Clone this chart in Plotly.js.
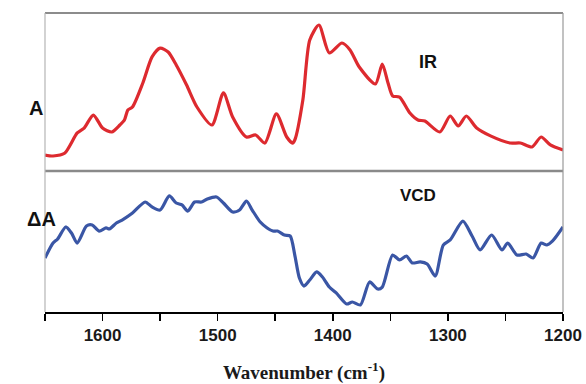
<!DOCTYPE html>
<html>
<head>
<meta charset="utf-8">
<script src="https://cdn.plot.ly/plotly-3.0.1.min.js"></script>
<style>html,body{margin:0;padding:0;background:#fff;}#chart{width:586px;height:384px;}</style>
</head>
<body>
<div id="chart"></div>
<script>
// IR spectrum (top panel), wavenumber in cm-1, absorbance in arbitrary units
const irWavenumber = [1650,1643,1633,1622,1616,1608,1600,1592,1585,1581,1578,1574,1565,1557,1550,1543,1536,1527,1518,1505,1495,1487,1475,1467,1459,1449,1440,1435,1433,1426,1420,1412,1403,1392,1385,1377,1363,1357,1352,1348,1342,1333,1326,1320,1307,1298,1291,1284,1275,1263,1246,1237,1227,1219,1211,1200];
const irAbsorbance = [0.101,0.095,0.112,0.241,0.272,0.354,0.272,0.247,0.291,0.323,0.386,0.405,0.557,0.722,0.778,0.753,0.671,0.544,0.405,0.291,0.494,0.342,0.215,0.228,0.177,0.361,0.215,0.177,0.196,0.449,0.829,0.924,0.747,0.810,0.766,0.658,0.551,0.677,0.557,0.475,0.468,0.367,0.323,0.316,0.247,0.348,0.285,0.348,0.272,0.222,0.177,0.177,0.152,0.215,0.165,0.133];

// VCD spectrum (bottom panel)
const vcdWavenumber = [1650,1643,1639,1632,1627,1622,1614,1609,1603,1597,1594,1588,1583,1574,1563,1557,1550,1542,1536,1531,1526,1520,1514,1509,1501,1495,1487,1481,1475,1470,1463,1457,1452,1448,1442,1437,1433,1429,1425,1420,1414,1409,1403,1397,1388,1383,1376,1368,1361,1357,1348,1342,1336,1331,1324,1318,1311,1304,1298,1287,1279,1272,1262,1253,1248,1240,1232,1226,1219,1214,1209,1200];
const vcdDeltaA = [0.383,0.489,0.518,0.603,0.560,0.489,0.610,0.617,0.574,0.596,0.589,0.631,0.652,0.702,0.780,0.745,0.723,0.823,0.773,0.759,0.716,0.780,0.780,0.801,0.816,0.773,0.709,0.723,0.787,0.723,0.638,0.596,0.574,0.574,0.546,0.539,0.404,0.241,0.184,0.227,0.284,0.248,0.177,0.135,0.057,0.071,0.050,0.213,0.163,0.177,0.404,0.369,0.397,0.348,0.355,0.340,0.255,0.475,0.511,0.645,0.539,0.440,0.546,0.440,0.489,0.404,0.411,0.383,0.489,0.475,0.504,0.603];

const tickValues = [1600,1500,1400,1300,1200];
const tickLabels = ["1600","1500","1400","1300","1200"];
const minorTickValues = [1650,1550,1450,1350,1250];

const traces = [
  {x: irWavenumber, y: irAbsorbance, xaxis: 'x2', yaxis: 'y2', mode: 'lines',
   line: {color: '#dd2a2f', width: 3.2, shape: 'spline', smoothing: 0.7}, hoverinfo: 'skip'},
  {x: vcdWavenumber, y: vcdDeltaA, xaxis: 'x', yaxis: 'y', mode: 'lines',
   line: {color: '#3a56a5', width: 3.2, shape: 'spline', smoothing: 0.7}, hoverinfo: 'skip'}
];

const split = 0.4716;
const layout = {
  width: 586, height: 384,
  margin: {l: 45, r: 23, t: 13, b: 72},
  paper_bgcolor: '#fff', plot_bgcolor: '#fff',
  showlegend: false,
  xaxis: {
    range: [1650, 1200], anchor: 'y', domain: [0, 1],
    tickmode: 'array', tickvals: tickValues, ticktext: tickLabels,
    ticks: 'outside', ticklen: 7, tickwidth: 1.5, tickcolor: '#000',
    minor: {tickmode: 'array', tickvals: minorTickValues, ticks: 'outside', ticklen: 7, tickwidth: 1.5, tickcolor: '#000', showgrid: false},
    showline: true, linecolor: '#000', linewidth: 2, showgrid: false, zeroline: false,
    tickfont: {family: 'Liberation Sans, Arial, sans-serif', size: 17, color: '#1a1a1a', weight: 'bold'},
    title: {text: 'Wavenumber (cm<sup>-1</sup>)', standoff: 22,
      font: {family: 'Liberation Serif, Times New Roman, serif', size: 19, color: '#1a1a1a', weight: 'bold'}}
  },
  xaxis2: {
    range: [1650, 1200], anchor: 'y2', domain: [0, 1],
    showticklabels: false, ticks: '', showline: false, showgrid: false, zeroline: false
  },
  yaxis: {
    domain: [0, split], range: [0, 1],
    showticklabels: false, ticks: '', showline: false, showgrid: false, zeroline: false
  },
  yaxis2: {
    domain: [split, 1], range: [0, 1],
    showticklabels: false, ticks: '', showline: false, showgrid: false, zeroline: false
  },
  shapes: [
    {type: 'line', xref: 'paper', yref: 'paper', x0: 0, x1: 1, y0: 1, y1: 1, line: {color: '#666', width: 1.5}},
    {type: 'line', xref: 'paper', yref: 'paper', x0: 0, x1: 1, y0: split, y1: split, line: {color: '#8a8a8a', width: 2.5}},
    {type: 'line', xref: 'paper', yref: 'paper', x0: 0, x1: 0, y0: 0, y1: 1, line: {color: '#b5b5b5', width: 1.2}},
    {type: 'line', xref: 'paper', yref: 'paper', x0: 1, x1: 1, y0: 0, y1: 1, line: {color: '#999', width: 1.2}}
  ],
  annotations: [
    {text: 'A', xref: 'paper', yref: 'paper', x: -0.0347, y: 0.726, showarrow: false,
     font: {family: 'Liberation Sans, Arial, sans-serif', size: 20, color: '#111', weight: 'bold'}},
    {text: 'ΔA', xref: 'paper', yref: 'paper', x: -0.0386, y: 0.268, showarrow: false,
     font: {family: 'Liberation Sans, Arial, sans-serif', size: 20, color: '#111', weight: 'bold'}},
    {text: 'IR', xref: 'paper', yref: 'paper', x: 0.761, y: 0.876, showarrow: false,
     font: {family: 'Liberation Sans, Arial, sans-serif', size: 18, color: '#111', weight: 'bold'}},
    {text: 'VCD', xref: 'paper', yref: 'paper', x: 0.759, y: 0.391, showarrow: false,
     font: {family: 'Liberation Sans, Arial, sans-serif', size: 17, color: '#111', weight: 'bold'}}
  ]
};

Plotly.newPlot('chart', traces, layout, {staticPlot: true, displayModeBar: false});
</script>
</body>
</html>
